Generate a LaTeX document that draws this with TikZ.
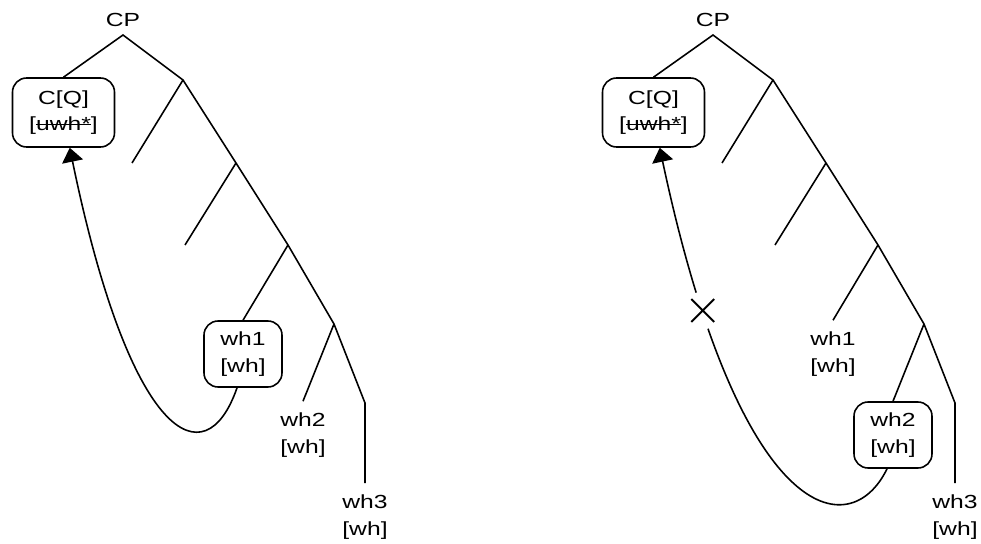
\documentclass[tikz,border=0pt]{standalone}
\usepackage{fontspec}
\setmainfont{Liberation Sans}[FakeStretch=1.3]
\usetikzlibrary{arrows.meta,shapes.misc}

% struck-out feature
\newsavebox\strikebox
\newcommand\struck[1]{\sbox\strikebox{#1}\rlap{\usebox\strikebox}\rule[0.6ex]{\wd\strikebox}{0.45pt}}

\begin{document}
\begin{tikzpicture}[x=0.02cm,y=-0.02cm,line width=0.9pt,
		   phrase/.style={font=\fontsize{10.8}{15}\selectfont,align=center,inner sep=0pt},
		   leaf/.style={phrase,minimum width=1.56cm,minimum height=1.32cm,rounded corners=8pt},
		   leafbox/.style={leaf,draw},
		   headbox/.style={leafbox,minimum width=2.04cm,minimum height=1.38cm},
		   move/.style={-{Triangle[width=12pt,length=8pt]}},
		   blocked/.style={cross out,draw,line width=1.1pt,minimum size=0.42cm,inner sep=0pt}]

	\useasboundingbox (0,0) rectangle (981,544);

	% two copies of the tree, wh1 boxed in the first, wh2 in the second
	\foreach \dx/\t/\one/\two in {0/l/leafbox/leaf, 590/r/leaf/leafbox} {
	    \node[phrase] (\t-cp) at (123+\dx,20) {CP};
	    \coordinate (\t-top) at (123+\dx,35);
	    \coordinate (\t-n1) at (183+\dx,80);
	    \coordinate (\t-a1) at (132+\dx,163);
	    \coordinate (\t-n2) at (236+\dx,163);
	    \coordinate (\t-a2) at (185+\dx,245);
	    \coordinate (\t-n3) at (288+\dx,245);
	    \coordinate (\t-n4) at (334+\dx,324);
	    \coordinate (\t-n5) at (365+\dx,403);
	    \node[headbox] (\t-cq) at (63.5+\dx,112.5) {C[Q]\\{[\struck{uwh*}]}};
	    \node[\one] (\t-wh1) at (243+\dx,354) {wh1\\{[wh]}};
	    \node[\two] (\t-wh2) at (303+\dx,435) {wh2\\{[wh]}};
	    \node[leaf] (\t-wh3) at (365+\dx,517) {wh3\\{[wh]}};
	    \draw (\t-cq.north) -- (\t-top) -- (\t-n1) -- (\t-n2) -- (\t-n3) -- (\t-n4) -- (\t-n5) -- (\t-wh3.north);
	    \draw (\t-n1) -- (\t-a1);
	    \draw (\t-n2) -- (\t-a2);
	    \draw (\t-n3) -- (\t-wh1.north);
	    \draw (\t-n4) -- (\t-wh2.north);
	}

	\draw[move] (l-wh1.260) .. controls (205,480) and (130,440) .. (l-cq.280);
	\draw[move] (r-wh2.260) .. controls (850,545) and (740,525) .. (r-cq.280)
	    node[pos=0.83,circle,fill=white,minimum size=0.76cm] (gap) {};
	\node[blocked] (stop) at (gap) {};

\end{tikzpicture}
\end{document}
